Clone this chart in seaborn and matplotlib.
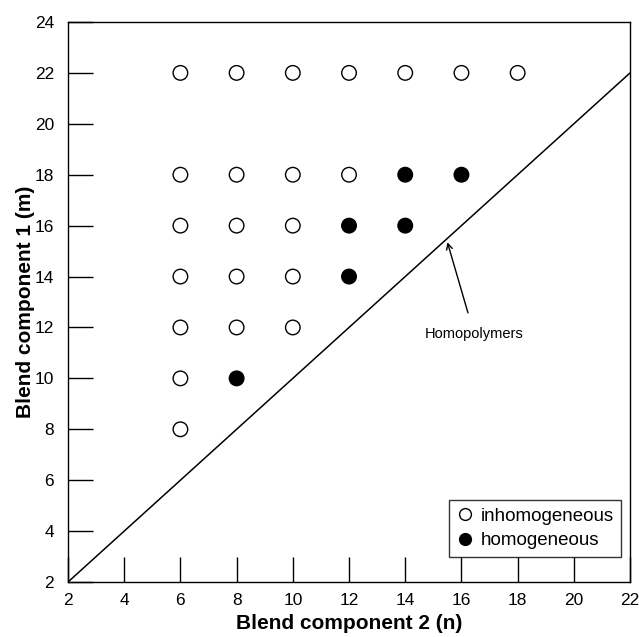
import matplotlib
matplotlib.use("Agg")
import matplotlib.pyplot as plt
from matplotlib.lines import Line2D
import seaborn as sns
import pandas as pd

inhom_n = [6, 8, 10, 12, 14, 16, 18, 6, 8, 10, 12, 6, 8, 10, 6, 8, 10, 6, 8, 10, 6, 6]
inhom_m = [22, 22, 22, 22, 22, 22, 22, 18, 18, 18, 18, 16, 16, 16, 14, 14, 14, 12, 12, 12, 10, 8]
hom_n = [14, 16, 12, 14, 12, 8]
hom_m = [18, 18, 16, 16, 14, 10]
homo_line = [2, 22]
ticks = [2, 4, 6, 8, 10, 12, 14, 16, 18, 20, 22]
yticks = [2, 4, 6, 8, 10, 12, 14, 16, 18, 20, 22, 24]

sns.set_theme(style="white")
plt.rcParams['font.family'] = ['Liberation Sans', 'DejaVu Sans']
plt.rcParams['text.color'] = 'black'
plt.rcParams['axes.labelcolor'] = 'black'
plt.rcParams['xtick.color'] = 'black'
plt.rcParams['ytick.color'] = 'black'

df = pd.DataFrame({
    "n": inhom_n + hom_n,
    "m": inhom_m + hom_m,
    "type": ["inhomogeneous"] * len(inhom_n) + ["homogeneous"] * len(hom_n),
})

fig = plt.figure(figsize=(6.39, 6.37), dpi=100)
ax = fig.add_axes([0.1064, 0.0863, 0.8796, 0.8792])

sns.lineplot(x=homo_line, y=homo_line, ax=ax, color="black", lw=1.1, legend=False)
sns.scatterplot(data=df, x="n", y="m", hue="type",
                palette={"inhomogeneous": "white", "homogeneous": "black"},
                edgecolor="black", linewidth=1.0, s=110, ax=ax, legend=False, zorder=3)

ax.annotate("Homopolymers", xy=(15.5, 15.35), xytext=(16.45, 11.75),
            ha="center", va="center", fontsize=10.5, color="black",
            arrowprops=dict(arrowstyle="->", color="black", lw=1.0,
                            shrinkA=8, shrinkB=0))

ax.set_xlim(2, 22)
ax.set_ylim(2, 24)
ax.set_xticks(ticks)
ax.set_yticks(yticks)
ax.tick_params(direction="in", length=18, width=1.0, color="black",
               labelcolor="black", labelsize=12.5, bottom=True, left=True)
ax.tick_params(axis="x", pad=8)
ax.tick_params(axis="y", pad=10)
for s in ax.spines.values():
    s.set_color("black")
    s.set_linewidth(1.0)
ax.set_xlabel("Blend component 2 (n)", fontsize=15, fontweight="bold", labelpad=4,
              color="black")
ax.set_ylabel("Blend component 1 (m)", fontsize=15, fontweight="bold", labelpad=0,
              color="black")

handles = [
    Line2D([], [], marker="o", linestyle="none", markerfacecolor="white",
           markeredgecolor="black", markersize=8.5, label="inhomogeneous"),
    Line2D([], [], marker="o", linestyle="none", markerfacecolor="black",
           markeredgecolor="black", markersize=8.5, label="homogeneous"),
]
leg = ax.legend(handles=handles, loc="lower right", bbox_to_anchor=(0.984, 0.045),
                fontsize=13.5, frameon=True, fancybox=False, handletextpad=0.3,
                borderpad=0.4, labelspacing=0.4, handlelength=1.0,
                borderaxespad=0.0)
leg.get_frame().set_edgecolor("black")
leg.get_frame().set_linewidth(1.0)
for t in leg.get_texts():
    t.set_color("black")

fig.savefig("out.png", dpi=100)
